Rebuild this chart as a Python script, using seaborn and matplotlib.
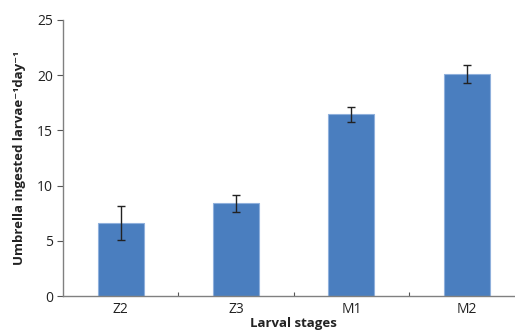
import matplotlib
matplotlib.use("Agg")
import matplotlib.pyplot as plt
import seaborn as sns
import pandas as pd
import numpy as np

stages = ["Z2", "Z3", "M1", "M2"]
values = [6.6, 8.4, 16.45, 20.1]
errors = [1.55, 0.75, 0.7, 0.8]

sns.set_style("white")
plt.rcParams['font.family'] = ['Open Sans', 'DejaVu Sans']

df = pd.DataFrame({"stage": stages, "value": values})

fig = plt.figure(figsize=(5.15, 3.33), dpi=100)
ax = fig.add_axes([0.1223, 0.111, 0.896, 0.829])

sns.barplot(data=df, x="stage", y="value", color="#4a7ebf", width=0.4,
            edgecolor="#8fb0dc", linewidth=0.8, ax=ax, errorbar=None, saturation=1)
ax.errorbar(np.arange(len(stages)), values, yerr=errors, fmt="none",
            ecolor="#222222", elinewidth=1.0, capsize=3, capthick=1.0)

ax.set_xlim(-0.5, 3.5)
ax.set_ylim(0, 25)
ax.set_yticks([0, 5, 10, 15, 20, 25])
ax.set_xticks(range(4))
ax.set_xticklabels(stages)
ax.set_xticks([0.5, 1.5, 2.5], minor=True)

for s in ["top", "right"]:
    ax.spines[s].set_visible(False)
for s in ["left", "bottom"]:
    ax.spines[s].set_color("#808080")
    ax.spines[s].set_linewidth(1.0)

ax.tick_params(axis="y", which="major", direction="out", length=4, width=0.8,
               color="#555555", labelsize=10, labelcolor="#222222", pad=3, left=True)
ax.tick_params(axis="x", which="major", length=0, labelsize=10, labelcolor="#222222", pad=4)
ax.tick_params(axis="x", which="minor", direction="in", length=3, width=0.8,
               color="#555555", bottom=True)

ax.set_ylabel("Umbrella ingested larvae\u207b\u00b9day\u207b\u00b9", fontsize=9.5,
              fontweight="bold", color="#222222", labelpad=8)
ax.set_xlabel("Larval stages", fontsize=9.5, fontweight="bold", color="#222222", labelpad=0)

fig.savefig("out.png", dpi=100)
